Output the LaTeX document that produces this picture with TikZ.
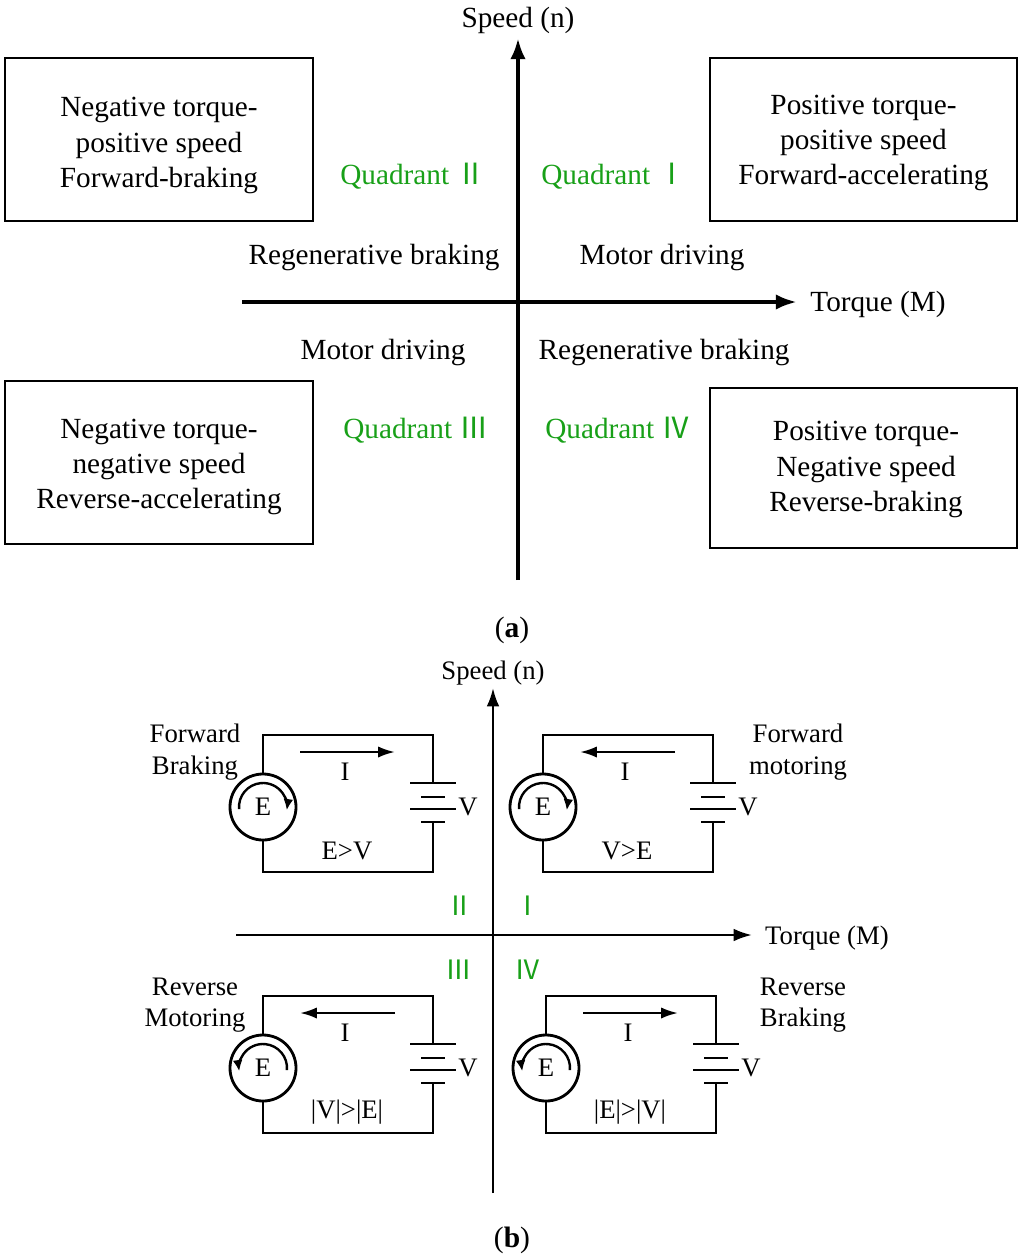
\documentclass[tikz,border=0pt]{standalone}
\usepackage{fontspec}
\setmainfont{Liberation Serif}
\newfontfamily\romannum{Noto Sans CJK SC}
\usetikzlibrary{arrows.meta,calc}
\definecolor{quadgreen}{RGB}{24,160,24}
\tikzset{
  bigtext/.style={font=\fontsize{20.8}{25}\selectfont, inner sep=0pt},
  smalltext/.style={font=\fontsize{19}{22.2}\selectfont, inner sep=0pt},
  capt/.style={font=\fontsize{21}{25}\selectfont, inner sep=0pt},
  quad/.style={text=quadgreen},
  modeframe/.style={draw, line width=1.4pt},
  modetext/.style={align=center, bigtext},
  axisA/.style={line width=3pt, -{Latex[length=15pt,width=11pt]}},
  axisB/.style={line width=1.8pt, -{Latex[length=13pt,width=9pt]}},
  wire/.style={line width=1.7pt},
  cell/.style={line width=1.8pt},
  current/.style={line width=1.7pt, -{Latex[length=12pt,width=8pt]}},
  spin/.style={line width=1.7pt, -{Latex[length=8pt,width=7pt]}},
  emf/.style={circle, draw, line width=2pt, minimum size=1.65cm, inner sep=0pt, smalltext}
}
% one DC machine loop: #1 name, #2 top left corner, #3/#4 current tail/head x,
% #5 condition, #6/#7 start/end angle of the rotation arrow
\newcommand{\dcloop}[7]{%
  \begin{scope}[shift={#2}]
    \node (#1E) at (0,72) [emf] {E};
    \coordinate (#1TL) at (0,0);
    \coordinate (#1TR) at (170,0);
    \coordinate (#1BR) at (170,137);
    \coordinate (#1BL) at (0,137);
    \coordinate (#1P) at (170,48);
    \coordinate (#1N) at (170,87);
    \draw[wire] (#1E) -- (#1TL) -- (#1TR) -- (#1P);
    \draw[wire] (#1N) -- (#1BR) -- (#1BL) -- (#1E);
    \draw[cell] (147,48) -- (193,48) (158,62) -- (182,62)
                (147,74) -- (193,74) (158,87) -- (182,87);
    \node (#1V) at (205,72) [smalltext] {V};
    \coordinate (#1It) at (#3,17);
    \coordinate (#1Ih) at (#4,17);
    \draw[current] (#1It) -- (#1Ih);
    \node (#1I) at (82,37) [smalltext] {I};
    \node (#1C) at (84,116) [smalltext] {#5};
    \draw[spin] ($(#1E.center)+(#6:0.6cm)$) arc[start angle=#6, end angle=#7, radius=0.6cm];
  \end{scope}}

\begin{document}
\begin{tikzpicture}[x=0.025cm, y=-0.025cm]
	\useasboundingbox (0,0) rectangle (1024,1258);
	% (a) torque-speed plane
	\coordinate (Ma0) at (242,302);
	\coordinate (Ma1) at (797,302);
	\coordinate (Na0) at (518,580);
	\coordinate (Na1) at (518,38);
	\draw[axisA] (Ma0) -- (Ma1);
	\draw[axisA] (Na0) -- (Na1);
	\node (Na) at (518,20)	[bigtext]	{Speed (n)};
	\node (Ma) at (878,304)	[bigtext]	{Torque (M)};
	\draw[modeframe] (5,58) rectangle (313,221);
	\draw[modeframe] (710,58) rectangle (1017,221);
	\draw[modeframe] (5,381) rectangle (313,544);
	\draw[modeframe] (710,388) rectangle (1017,548);
	\node (Q2) at (159,145.5)	[modetext]	{Negative torque-\\positive speed\\Forward-braking};
	\node (Q1) at (863.5,143)	[modetext]	{Positive torque-\\positive speed\\Forward-accelerating};
	\node (Q3) at (159,467)	[modetext]	{Negative torque-\\negative speed\\Reverse-accelerating};
	\node (Q4) at (866,469.5)	[modetext]	{Positive torque-\\Negative speed\\Reverse-braking};
	\node (G2) at (413,176)	[bigtext, quad]	{Quadrant {\romannum Ⅱ}};
	\node (G1) at (614,176)	[bigtext, quad]	{Quadrant {\romannum Ⅰ}};
	\node (G3) at (416,430)	[bigtext, quad]	{Quadrant {\romannum Ⅲ}};
	\node (G4) at (618,430)	[bigtext, quad]	{Quadrant {\romannum Ⅳ}};
	\node (R2) at (374,258)	[bigtext]	{Regenerative braking};
	\node (D1) at (662,258)	[bigtext]	{Motor driving};
	\node (D3) at (383,353)	[bigtext]	{Motor driving};
	\node (R4) at (664,353)	[bigtext]	{Regenerative braking};
	\node (La) at (512,630)	[capt]	{(\textbf{a})};
	% (b) the four machine states
	\coordinate (Mb0) at (236,935);
	\coordinate (Mb1) at (752,935);
	\coordinate (Nb0) at (493,1193);
	\coordinate (Nb1) at (493,688);
	\draw[axisB] (Mb0) -- (Mb1);
	\draw[axisB] (Nb0) -- (Nb1);
	\node (Nb) at (493,673)	[smalltext]	{Speed (n)};
	\node (Mb) at (827,938)	[smalltext]	{Torque (M)};
	\node (g2) at (460,906)	[smalltext, quad]	{\romannum Ⅱ};
	\node (g1) at (528,906)	[smalltext, quad]	{\romannum Ⅰ};
	\node (g3) at (459,970)	[smalltext, quad]	{\romannum Ⅲ};
	\node (g4) at (528,970)	[smalltext, quad]	{\romannum Ⅳ};
	\dcloop{FB}{(263,735)}{37}{132}{E>V}{185}{-8}
	\dcloop{FM}{(543,735)}{132}{37}{V>E}{185}{-8}
	\dcloop{RM}{(263,996)}{132}{37}{|V|>|E|}{-5}{188}
	\dcloop{RB}{(546,996)}{37}{132}{|E|>|V|}{-5}{188}
	\node (FBt) at (195,752)	[smalltext, align=center]	{Forward\\Braking};
	\node (FMt) at (798,752)	[smalltext, align=center]	{Forward\\motoring};
	\node (RMt) at (195,1005)	[smalltext, align=center]	{Reverse\\Motoring};
	\node (RBt) at (803,1005)	[smalltext, align=center]	{Reverse\\Braking};
	\node (Lb) at (512,1240)	[capt]	{(\textbf{b})};
\end{tikzpicture}
\end{document}
